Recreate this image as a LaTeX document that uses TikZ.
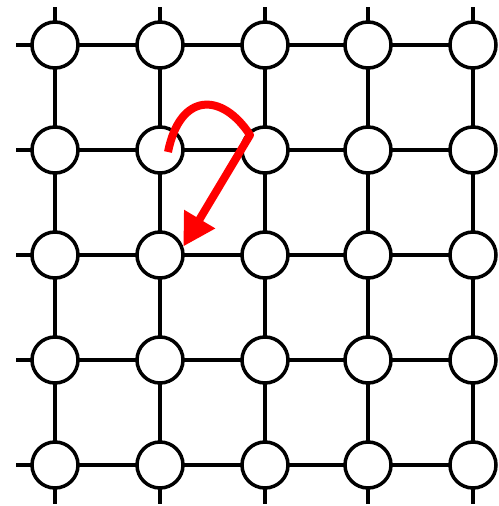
\documentclass[tikz,border=0pt]{standalone}
\usetikzlibrary{arrows.meta}
\begin{document}
\begin{tikzpicture}[x=1pt,y=-1pt,
  site/.style={circle,draw=black,fill=white,line width=3.5pt,minimum size=46pt,inner sep=0pt},
  bond/.style={line width=3.5pt,black},
  hop/.style={red,line width=8pt,line join=round,-{Triangle[length=32pt,width=34pt]}}]
\useasboundingbox (0,0) rectangle (498,506);
\foreach \c/\x in {0/55,1/160,2/265,3/368,4/473}{
  \coordinate (t\c) at (\x,7);
  \coordinate (b\c) at (\x,504);
}
\foreach \r/\y in {0/45,1/150,2/255,3/360,4/465}{
  \coordinate (l\r) at (16,\y);
}
% bonds
\foreach \r/\y in {0/45,1/150,2/255,3/360,4/465}{
  \draw[bond] (l\r) -- (473,\y);
}
\foreach \c/\x in {0/55,1/160,2/265,3/368,4/473}{
  \draw[bond] (t\c) -- (b\c);
}
% sites
\foreach \c/\x in {0/55,1/160,2/265,3/368,4/473}{
  \foreach \r/\y in {0/45,1/150,2/255,3/360,4/465}{
    \node[site] (n\r\c) at (\x,\y) {};
  }
}
% hop arrow
\coordinate (hs) at (168,152);
\coordinate (hc) at (250,135);
\draw[hop] (hs) .. controls (180,92) and (222,92) .. (hc) -- (n21.20);
\end{tikzpicture}
\end{document}
